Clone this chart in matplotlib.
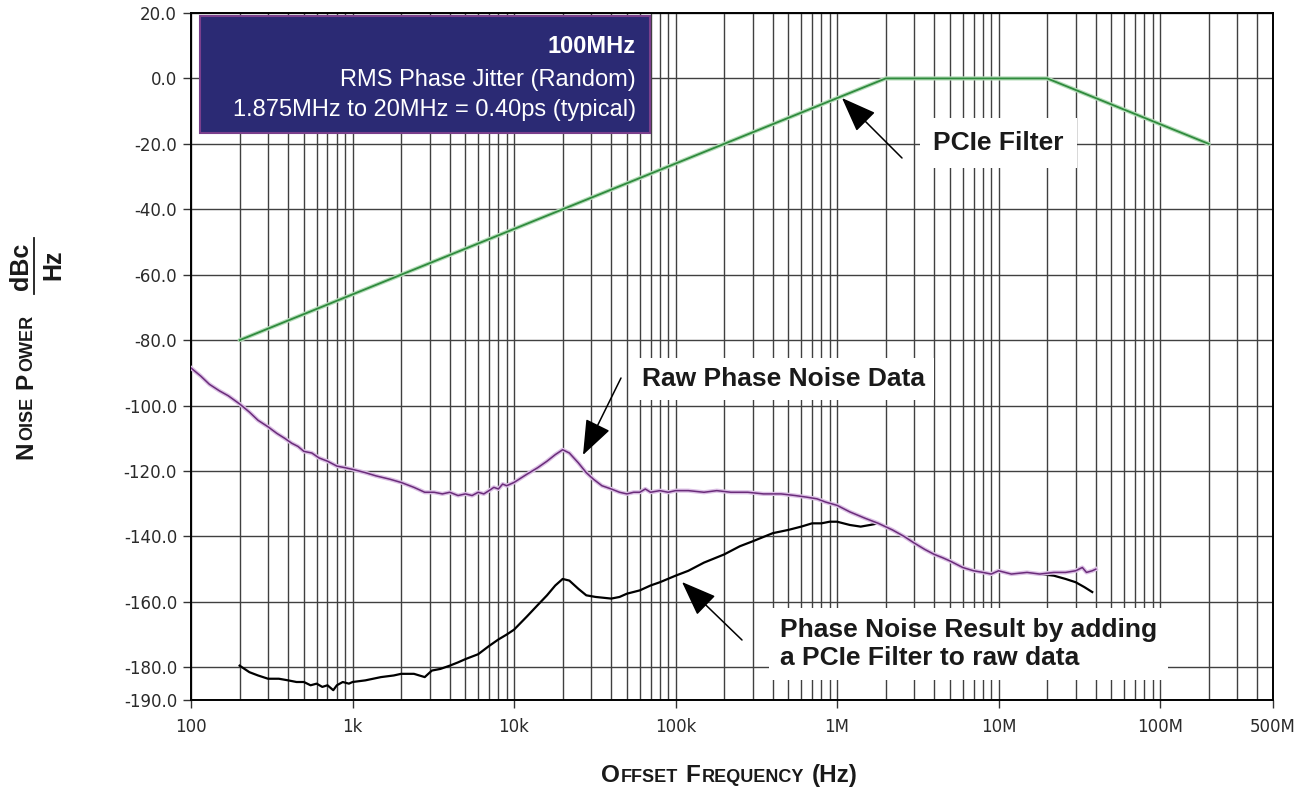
import numpy as np
import matplotlib
matplotlib.use('Agg')
import matplotlib.pyplot as plt
from matplotlib.patches import Rectangle
from matplotlib.lines import Line2D
from matplotlib.ticker import LogLocator, FixedLocator, FixedFormatter, NullFormatter

# ---------------- data ----------------
filter_freq = [200, 2e6, 2e7, 2e8]
filter_db = [-80, 0, 0, -20]

raw_freq = [100, 115, 130, 150, 170, 200, 230, 260, 300, 340, 380, 420, 460, 500, 560, 620,
            700, 800, 900, 1000, 1200, 1400, 1700, 2000, 2400, 2800, 3200, 3600, 4000, 4500,
            5000, 5500, 6000, 6500, 7000, 7500, 8000, 8500, 9000, 10000, 12000, 14000, 16000,
            18000, 20000, 22000, 25000, 28000, 31000, 35000, 40000, 45000, 50000, 55000, 60000,
            65000, 70000, 80000, 90000, 100000, 120000, 150000, 180000, 220000, 280000, 350000,
            450000, 550000, 650000, 750000, 850000, 1.0e6, 1.2e6, 1.5e6, 1.8e6, 2.2e6, 2.6e6,
            3.0e6, 3.5e6, 4.0e6, 4.5e6, 5.0e6, 6.0e6, 7.0e6, 8.0e6, 9.0e6, 1.0e7, 1.2e7, 1.5e7,
            1.8e7, 2.2e7, 2.6e7, 3.0e7, 3.3e7, 3.5e7, 3.8e7, 4.0e7]
raw_db = [-88.5, -91, -93.5, -95.5, -97, -99.5, -102, -104.5, -106.5, -108.5, -110, -111.5,
          -112.5, -114, -114.5, -116, -117, -118.5, -119, -119.5, -120.5, -121.5, -122.5, -123.5,
          -125, -126.5, -126.5, -127, -126.5, -127.5, -127, -127.5, -126.5, -127, -126, -125,
          -125.5, -124, -124.5, -123.5, -121, -119, -117, -115, -113.5, -114.5, -117.5, -120.5,
          -122.5, -124.5, -125.5, -126.5, -127, -126.5, -126.5, -125.5, -126.5, -126, -126.5,
          -126, -126, -126.5, -126, -126.5, -126.5, -127, -127, -127.5, -128, -128.5, -129.5,
          -130.5, -132.5, -134.5, -136, -138, -140, -142, -144, -145.5, -146.5, -147.5, -149.5,
          -150.5, -151, -151.5, -150.5, -151.5, -151, -151.5, -151, -151, -150.5, -149.5, -151,
          -150.5, -150]

res_freq = [200, 230, 260, 300, 350, 400, 450, 500, 550, 600, 650, 700, 760, 800, 870, 950,
            1000, 1200, 1500, 1800, 2000, 2400, 2800, 3100, 3500, 4000, 4500, 5000, 6000, 7000,
            8000, 9000, 10000, 12000, 14000, 16000, 18000, 20000, 22000, 25000, 28000, 32000,
            40000, 45000, 50000, 60000, 70000, 80000, 100000, 120000, 150000, 200000, 250000,
            300000, 400000, 500000, 600000, 700000, 800000, 900000, 1.0e6, 1.2e6, 1.4e6, 1.6e6,
            1.8e6, 2.2e6, 2.6e6, 3.0e6, 3.5e6, 4.0e6, 4.5e6, 5.0e6, 6.0e6, 7.0e6, 8.0e6, 9.0e6,
            1.0e7, 1.2e7, 1.5e7, 1.8e7, 2.2e7, 2.6e7, 3.0e7, 3.4e7, 3.8e7]
res_db = [-179.5, -181.5, -182.5, -183.5, -183.5, -184, -184.5, -184.5, -185.5, -185, -186,
          -185.5, -187, -185.5, -184.5, -185, -184.5, -184, -183, -182.5, -182, -182, -183,
          -181, -180.5, -179.5, -178.5, -177.5, -176, -173.5, -171.5, -170, -168.5, -164.5,
          -161, -158, -155, -153, -153.5, -156, -158, -158.5, -159, -158.5, -157.5, -156.5,
          -155, -154, -152, -150.5, -148, -145.5, -143, -141.5, -139, -138, -137, -136, -136,
          -135.5, -135.5, -136.5, -137, -136.5, -136, -138, -140, -142, -144, -145.5, -146.5,
          -147.5, -149.5, -150.5, -151, -151.5, -150.5, -151.5, -151, -151.5, -152, -153, -154,
          -155.5, -157]

xtick_vals = [1e2, 1e3, 1e4, 1e5, 1e6, 1e7, 1e8, 5e8]
xtick_labels = ['100', '1k', '10k', '100k', '1M', '10M', '100M', '500M']
ytick_vals = [20, 0, -20, -40, -60, -80, -100, -120, -140, -160, -180, -190]
ytick_labels = ['20.0', '0.0', '-20.0', '-40.0', '-60.0', '-80.0', '-100.0', '-120.0',
                '-140.0', '-160.0', '-180.0', '-190.0']

# ---------------- layout ----------------
W, H = 1304, 790
fig = plt.figure(figsize=(W / 100, H / 100), dpi=100)
L, R, T, B = 191, 1273, 13, 700
ax = fig.add_axes([L / W, 1 - B / H, (R - L) / W, (B - T) / H])
XMIN, XMAX, YMIN, YMAX = 1e2, 5e8, -190, 20
ax.set_xscale('log')
ax.set_xlim(XMIN, XMAX)
ax.set_ylim(YMIN, YMAX)

def px2x(px):
    return 10 ** (np.log10(XMIN) + (px - L) / (R - L) * np.log10(XMAX / XMIN))

def px2y(py):
    return YMAX - (py - T) / (B - T) * (YMAX - YMIN)

def fx(px):
    return px / W

def fy(py):
    return 1 - py / H

GRID = '#404040'
ax.xaxis.set_major_locator(FixedLocator(xtick_vals))
ax.xaxis.set_major_formatter(FixedFormatter(xtick_labels))
ax.xaxis.set_minor_locator(LogLocator(base=10, subs=np.arange(2, 10)))
ax.xaxis.set_minor_formatter(NullFormatter())
ax.yaxis.set_major_locator(FixedLocator(ytick_vals))
ax.yaxis.set_major_formatter(FixedFormatter(ytick_labels))
ax.grid(True, which='both', axis='x', color=GRID, lw=1.0)
ax.grid(True, which='major', axis='y', color=GRID, lw=1.0)
ax.set_axisbelow(True)
ax.tick_params(axis='both', which='major', direction='out', length=6, width=1,
               labelsize=12, labelcolor='#2a2a2a', color='#333333')
ax.tick_params(axis='x', which='major', pad=7)
ax.tick_params(axis='y', which='major', pad=4)
ax.tick_params(axis='x', which='minor', length=0)
for lab in ax.get_xticklabels() + ax.get_yticklabels():
    lab.set_family('DejaVu Sans')
for s in ax.spines.values():
    s.set_linewidth(1.4)
    s.set_color('black')

# ---------------- curves ----------------
ax.plot(filter_freq, filter_db, color='#b5ddb9', lw=3.0, zorder=3, solid_capstyle='round')
ax.plot(filter_freq, filter_db, color='#2f8a3d', lw=1.3, zorder=3.1)
ax.plot(res_freq, res_db, color='black', lw=1.6, zorder=3.2)
ax.plot(raw_freq, raw_db, color='#dcc0e5', lw=3.0, zorder=3.3)
ax.plot(raw_freq, raw_db, color='#6a2c7a', lw=1.1, zorder=3.4)

# ---------------- annotations ----------------
ANN = dict(fontsize=19, fontweight='bold', family='Liberation Sans', color='#1a1a1a')
arrow = dict(arrowstyle='-|>,head_length=1.1,head_width=0.42', mutation_scale=20,
             color='black', lw=1.1, shrinkA=0, shrinkB=0)

ax.text(px2x(933), px2y(150), 'PCIe Filter', ha='left', va='baseline', zorder=10,
        bbox=dict(boxstyle='square,pad=0.5', fc='white', ec='none'), **ANN)
ax.annotate('', xy=(px2x(842), px2y(98)), xytext=(px2x(902), px2y(158)),
            arrowprops=arrow, zorder=11)

ax.text(px2x(642), px2y(386), 'Raw Phase Noise Data', ha='left', va='baseline', zorder=10,
        bbox=dict(boxstyle='square,pad=0.35', fc='white', ec='none'), **ANN)
ax.annotate('', xy=(px2x(583), px2y(455)), xytext=(px2x(621), px2y(378)),
            arrowprops=arrow, zorder=11)

ax.text(px2x(780), px2y(644), 'Phase Noise Result by adding\na PCIe Filter to raw data',
        ha='left', va='center', linespacing=1.2, zorder=10,
        bbox=dict(boxstyle='square,pad=0.4', fc='white', ec='none'), **ANN)
ax.annotate('', xy=(px2x(682), px2y(582)), xytext=(px2x(742), px2y(640)),
            arrowprops=arrow, zorder=11)

# ---------------- info box ----------------
fig.add_artist(Rectangle((fx(200), fy(133)), (650 - 200) / W, (133 - 16) / H,
                         transform=fig.transFigure, facecolor='#2b2a74',
                         edgecolor='#7a3f8c', lw=1.5, zorder=5))
BOX = dict(fontsize=17, family='Liberation Sans', color='white', ha='right', va='baseline',
           zorder=6)
fig.text(fx(636), fy(53), '100MHz', fontweight='bold', **BOX)
fig.text(fx(636), fy(86), 'RMS Phase Jitter (Random)', **BOX)
fig.text(fx(636), fy(116), '1.875MHz to 20MHz = 0.40ps (typical)', **BOX)

# ---------------- small-caps axis labels ----------------
BIG, SMALL = 17.5, 13

def smallcaps(pieces, center_px, base_px, rotation):
    texts = []
    for s, size in pieces:
        if s is None:
            texts.append(None)
            continue
        t = fig.text(0, 0, s, fontsize=size, fontweight='bold', family='Liberation Sans',
                     color='#1a1a1a', rotation=rotation, rotation_mode='anchor',
                     ha='left', va='baseline')
        texts.append(t)
    fig.canvas.draw()
    r = fig.canvas.get_renderer()
    lens = []
    for t, (s, size) in zip(texts, pieces):
        if t is None:
            lens.append(size)  # gap in px
        else:
            e = t.get_window_extent(r)
            lens.append((e.width if rotation == 0 else e.height) + 1.5)
    total = sum(lens)
    pos = center_px - total / 2 if rotation == 0 else center_px + total / 2
    for t, ln in zip(texts, lens):
        if t is not None:
            if rotation == 0:
                t.set_position((fx(pos), fy(base_px)))
            else:
                t.set_position((fx(base_px), fy(pos)))
        pos = pos + ln if rotation == 0 else pos - ln

smallcaps([('O', BIG), ('FFSET', SMALL), (None, 6), ('F', BIG), ('REQUENCY', SMALL),
           (None, 6), ('(Hz)', BIG)], 730, 782, 0)
smallcaps([('N', BIG), ('OISE', SMALL), (None, 6), ('P', BIG), ('OWER', SMALL)],
          386, 32, 90)

FR = dict(fontsize=18, fontweight='bold', family='Liberation Sans', color='#1a1a1a',
          rotation=90, rotation_mode='anchor', ha='center', va='baseline')
fig.text(fx(28), fy(266), 'dBc', **FR)
fig.text(fx(60), fy(265), 'Hz', **FR)
fig.add_artist(Line2D([fx(34), fx(34)], [fy(238), fy(294)], transform=fig.transFigure,
                      color='#1a1a1a', lw=1.3))

fig.savefig('out.png', dpi=100, facecolor='white')
